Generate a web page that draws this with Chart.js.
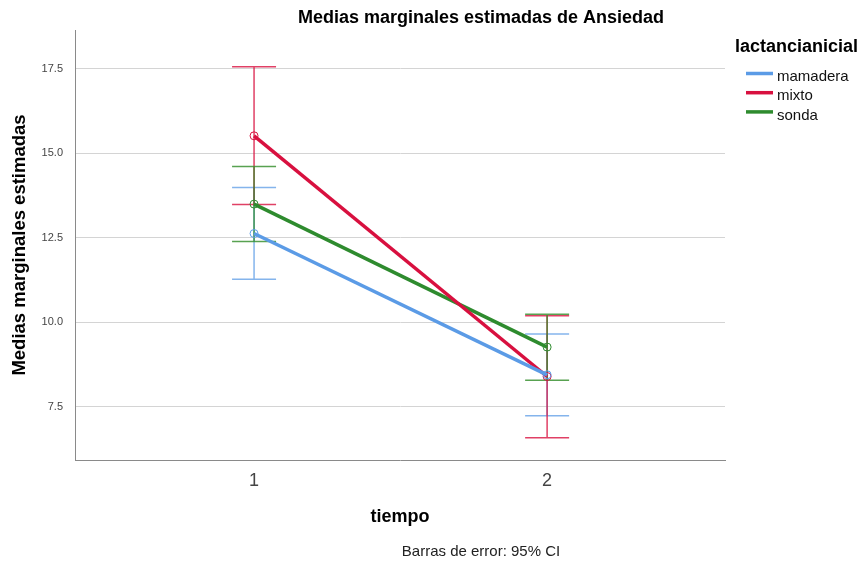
<!DOCTYPE html>
<html>
<head>
<meta charset="utf-8">
<script src="https://cdn.jsdelivr.net/npm/chart.js@4/dist/chart.umd.min.js"></script>
<style>
  html, body { margin: 0; padding: 0; background: #fff; }
  #wrap { width: 860px; height: 562px; }
</style>
</head>
<body>
<div id="wrap"><canvas id="c" width="860" height="562"></canvas></div>
<script>
// Estimated marginal means of Ansiedad by tiempo, one line per lactancianicial group
const tiempos = [1, 2];
const grupos = ['mamadera', 'mixto', 'sonda'];
const mediaMamadera = [12.63, 8.45];
const mediaMixto = [15.52, 8.40];
const mediaSonda = [13.50, 9.27];
// 95% confidence limits
const infMamadera = [11.28, 7.24];
const supMamadera = [13.99, 9.66];
const infMixto = [13.49, 6.59];
const supMixto = [17.56, 10.20];
const infSonda = [12.39, 8.29];
const supSonda = [14.61, 10.24];
const yTicks = [7.5, 10.0, 12.5, 15.0, 17.5];

const colores = ['#5b9be6', '#d8103f', '#2e8b2e'];
const coloresBarra = ['rgba(91,155,230,0.75)', 'rgba(216,16,63,0.8)', 'rgba(46,139,38,0.8)'];
const medias = [mediaMamadera, mediaMixto, mediaSonda];
const limitesInf = [infMamadera, infMixto, infSonda];
const limitesSup = [supMamadera, supMixto, supSonda];

const FONT = '"Liberation Sans", Arial, sans-serif';

const datasets = grupos.map((g, i) => ({
  label: g,
  data: tiempos.map((t, k) => ({ x: t, y: medias[i][k] })),
  borderColor: colores[i],
  backgroundColor: 'rgba(0,0,0,0)',
  borderWidth: 3.5,
  pointRadius: 4,
  pointBorderWidth: 1,
  pointBorderColor: colores[i],
  pointBackgroundColor: 'rgba(0,0,0,0)',
  tension: 0
}));

// Error bars with caps, drawn under the lines
const errorBars = {
  id: 'errorBars',
  beforeDatasetsDraw(chart) {
    const { ctx, scales: { x, y } } = chart;
    ctx.save();
    ctx.lineWidth = 1.5;
    grupos.forEach((g, i) => {
      ctx.strokeStyle = coloresBarra[i];
      tiempos.forEach((t, k) => {
        const px = x.getPixelForValue(t);
        const y0 = y.getPixelForValue(limitesInf[i][k]);
        const y1 = y.getPixelForValue(limitesSup[i][k]);
        const hw = 22;
        ctx.beginPath();
        ctx.moveTo(px, y0); ctx.lineTo(px, y1);
        ctx.moveTo(px - hw, y0); ctx.lineTo(px + hw, y0);
        ctx.moveTo(px - hw, y1); ctx.lineTo(px + hw, y1);
        ctx.stroke();
      });
    });
    ctx.restore();
  }
};

// Titles, legend and footnote
const textos = {
  id: 'textos',
  afterDraw(chart) {
    const { ctx, chartArea } = chart;
    ctx.save();
    ctx.fillStyle = '#000';
    ctx.textBaseline = 'middle';

    ctx.font = 'bold 18px ' + FONT;
    ctx.textAlign = 'center';
    ctx.fillText('Medias marginales estimadas de Ansiedad', 481, 18);

    ctx.font = 'bold 18px ' + FONT;
    ctx.fillText('tiempo', (chartArea.left + chartArea.right) / 2, 517);

    ctx.font = '15px ' + FONT;
    ctx.fillStyle = '#222';
    ctx.fillText('Barras de error: 95% CI', 481, 552);

    ctx.save();
    ctx.fillStyle = '#000';
    ctx.translate(20, (chartArea.top + chartArea.bottom) / 2);
    ctx.rotate(-Math.PI / 2);
    ctx.font = 'bold 18.5px ' + FONT;
    ctx.fillText('Medias marginales estimadas', 0, 0);
    ctx.restore();

    // legend
    ctx.textAlign = 'left';
    ctx.fillStyle = '#000';
    ctx.font = 'bold 18px ' + FONT;
    ctx.fillText('lactancianicial', 735, 47);
    ctx.font = '15px ' + FONT;
    grupos.forEach((g, i) => {
      const yy = 73.5 + i * 19.2;
      ctx.strokeStyle = colores[i];
      ctx.lineWidth = 3.5;
      ctx.beginPath();
      ctx.moveTo(746, yy); ctx.lineTo(773, yy);
      ctx.stroke();
      ctx.fillStyle = '#111';
      ctx.fillText(g, 777, yy + 3.5);
    });
    ctx.restore();
  }
};

new Chart(document.getElementById('c'), {
  type: 'line',
  data: { datasets },
  options: {
    responsive: false,
    animation: false,
    devicePixelRatio: 1,
    layout: { padding: { left: 0, top: 30, right: 135, bottom: 0 } },
    plugins: { legend: { display: false }, title: { display: false }, tooltip: { enabled: false } },
    scales: {
      x: {
        type: 'linear',
        min: 0.389,
        max: 2.607,
        afterBuildTicks(s) { s.ticks = tiempos.map(v => ({ value: v })); },
        afterFit(s) { s.height = 102; },
        grid: { display: false, drawTicks: false },
        border: { display: true, color: '#8a8a8a', width: 1 },
        ticks: { padding: 10, color: '#444', font: { family: FONT, size: 18 }, callback: v => String(v) }
      },
      y: {
        type: 'linear',
        min: 5.93,
        max: 18.65,
        afterBuildTicks(s) { s.ticks = yTicks.map(v => ({ value: v })); },
        afterFit(s) { s.width = 75; },
        grid: { color: '#d4d4d4', lineWidth: 1, drawTicks: false },
        border: { display: true, color: '#8a8a8a', width: 1 },
        ticks: { padding: 12, color: '#444', font: { family: FONT, size: 11 }, callback: v => Number(v).toFixed(1) }
      }
    }
  },
  plugins: [errorBars, textos]
});
</script>
</body>
</html>
